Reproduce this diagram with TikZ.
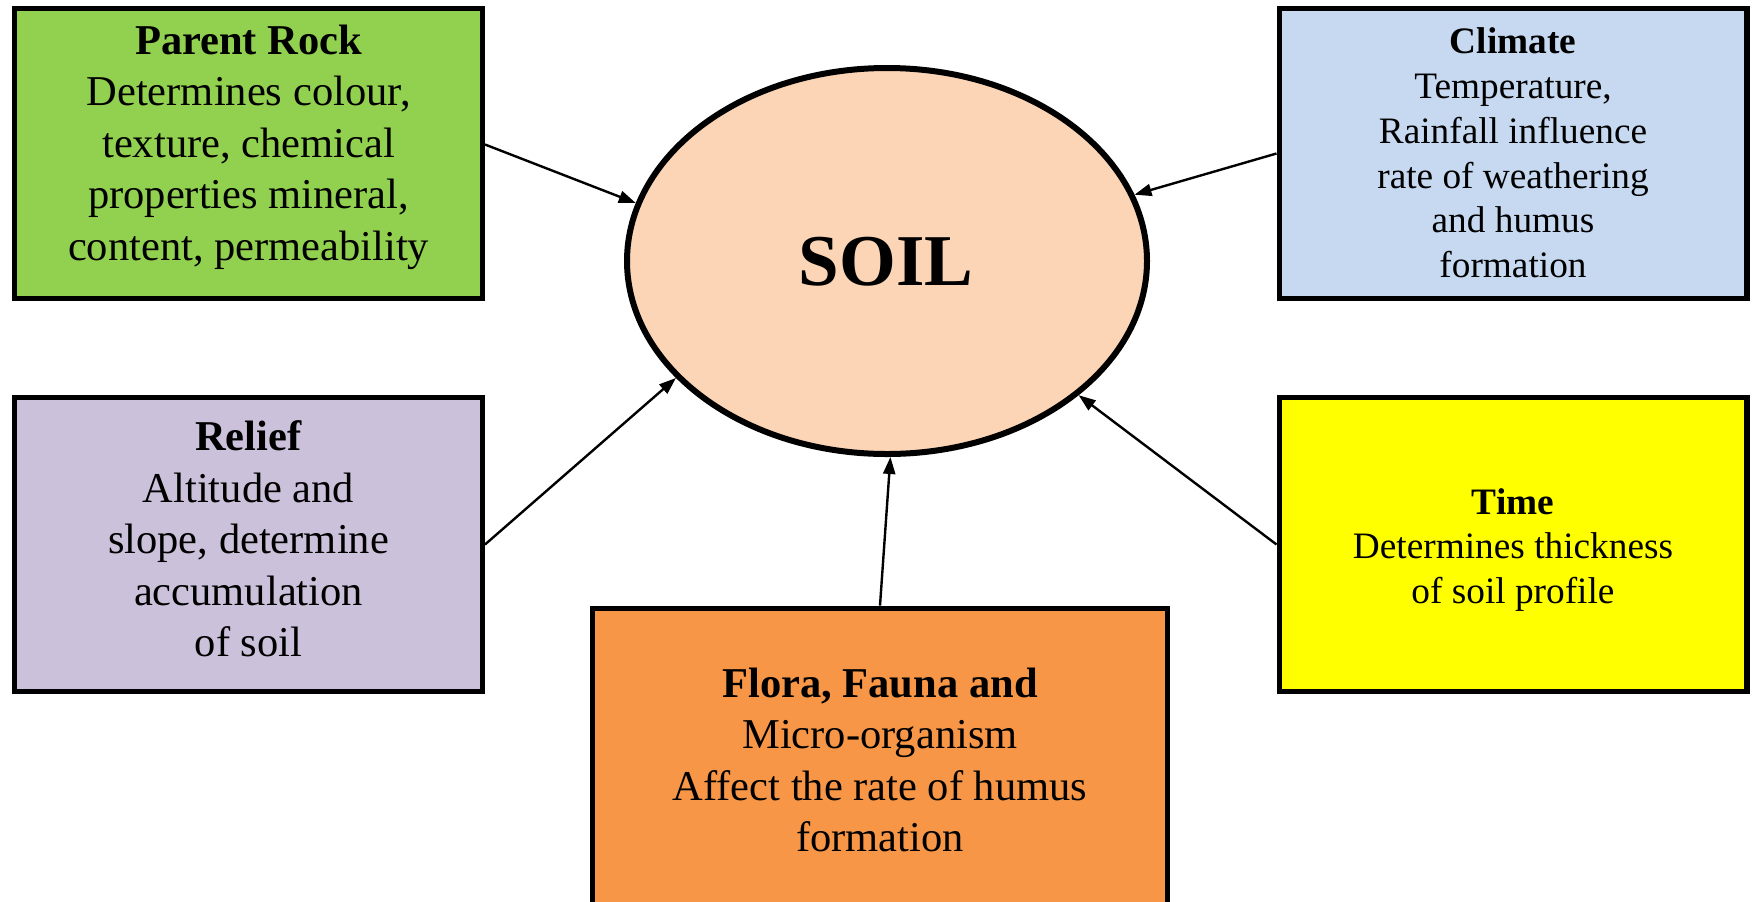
\documentclass[tikz,border=0pt]{standalone}
\usepackage{fontspec}
\setmainfont{Liberation Serif}
\usetikzlibrary{shapes.geometric,arrows.meta}
\definecolor{prgreen}{HTML}{92D050}
\definecolor{clblue}{HTML}{C6D9F1}
\definecolor{rellav}{HTML}{CCC1DA}
\definecolor{timeyel}{HTML}{FFFF00}
\definecolor{florange}{HTML}{F79646}
\definecolor{soilpeach}{HTML}{FBD5B5}
\begin{document}
\begin{tikzpicture}[x=0.5pt,y=-0.5pt,
  box/.style={draw=black,line width=2.6pt,inner sep=0pt,rectangle},
  widebox/.style={box,minimum width=233.9pt,minimum height=144.9pt},
  lowbox/.style={box,minimum width=233.9pt,minimum height=146.9pt},
  bigtxt/.style={align=center,inner sep=0pt,font=\fontsize{21.25}{25.75}\selectfont},
  smalltxt/.style={align=center,inner sep=0pt,font=\fontsize{18.65}{22.4}\selectfont},
  conn/.style={line width=1.2pt,-{Triangle[length=8.5pt,width=6pt]}}]
\useasboundingbox (0,0) rectangle (1756,901);

% centre
\node[ellipse,draw=black,line width=3pt,fill=soilpeach,inner sep=0pt,
      minimum width=260pt,minimum height=193pt] (soil) at (887,261) {};
\node[inner sep=0pt,font=\fontsize{36.5}{40}\selectfont\bfseries] (soilt) at (886,262) {SOIL};

% boxes
\node[widebox,fill=prgreen] (pr) at (248.5,153.5) {};
\node[bigtxt] (prt) at (248.6,147) {\textbf{Parent Rock}\\Determines colour,\\texture, chemical\\properties mineral,\\content, permeability};

\node[widebox,fill=clblue] (cl) at (1513,153.5) {};
\node[smalltxt] (clt) at (1513,153) {\textbf{Climate}\\Temperature,\\Rainfall influence\\rate of weathering\\and humus\\formation};

\node[lowbox,fill=rellav] (rel) at (248.5,544.5) {};
\node[bigtxt] (relt) at (248.5,539) {\textbf{Relief}\\Altitude and\\slope, determine\\accumulation\\of soil};

\node[lowbox,fill=timeyel] (tim) at (1513,544.5) {};
\node[smalltxt] (timt) at (1513,550) {\textbf{Time}\\Determines thickness\\of soil profile};

\node[box,fill=florange,minimum width=287.4pt,minimum height=150.8pt] (fl) at (880,759) {};
\node[bigtxt] (flt) at (880,760) {\textbf{Flora, Fauna and}\\Micro-organism\\Affect the rate of humus\\formation};

% connectors
\draw[conn] ([yshift=4.5pt]pr.east) -- (soil.167);
\draw[conn] (cl.west) -- (soil.15.6);
\draw[conn] (rel.east) -- (soil.-151);
\draw[conn] (tim.west) -- (soil.-35.5);
\draw[conn] (fl.north) -- (soil.-89.5);
\end{tikzpicture}
\end{document}
